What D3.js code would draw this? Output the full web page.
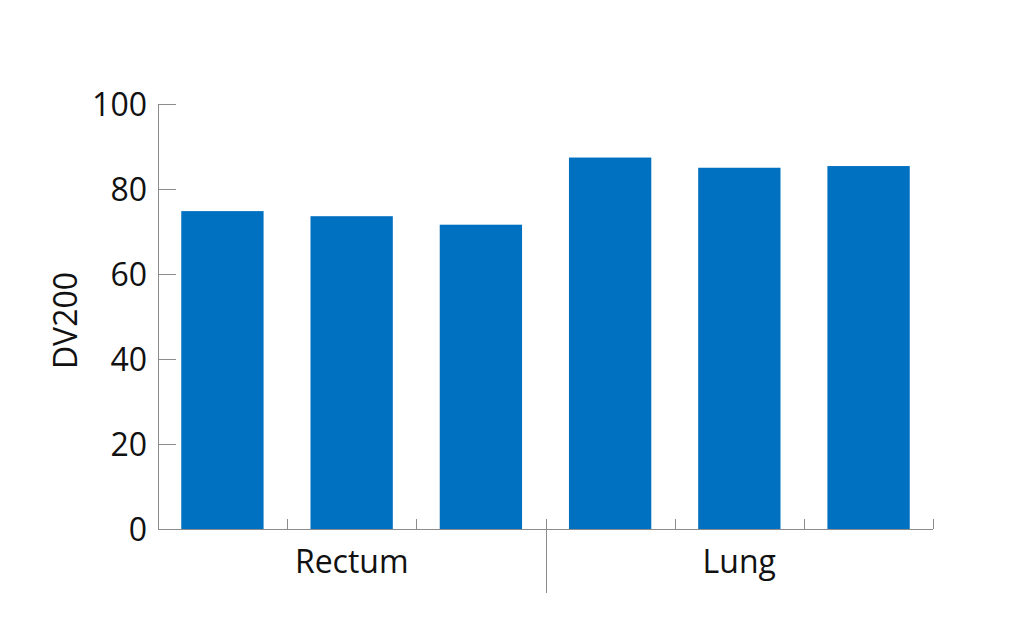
<!DOCTYPE html>
<html><head><meta charset="utf-8">
<script src="https://cdn.jsdelivr.net/npm/d3@7"></script>
<style>html,body{margin:0;padding:0;background:#fff;}svg{display:block;}</style>
</head><body><svg id="c" width="1024" height="640"></svg>
<script>
const samples = ["R1","R2","R3","L1","L2","L3"];
const values = [74.8, 73.6, 71.6, 87.4, 85.0, 85.4];
const groups = ["Rectum","Lung"];
const groupSizes = [3,3];
const yTicks = [0,20,40,60,80,100];
const yLabel = "DV200";

const svg = d3.select("#c");
const font = "'Open Sans', sans-serif";
const fs = 32;
const axisColor = "#8c8c8c";
const x = d3.scaleBand().domain(samples).range([158, 933]).paddingInner(0.363).paddingOuter(0.18);
const y = d3.scaleLinear().domain([0,100]).range([529, 104]);

// bars
svg.append("g").selectAll("rect").data(values).join("rect")
  .attr("x",(d,i)=>x(samples[i])).attr("width",x.bandwidth())
  .attr("y",d=>y(d)).attr("height",d=>y(0)-y(d))
  .attr("fill","#0070c0");

// y axis
const ya = svg.append("g").attr("transform",`translate(${x.range()[0]},0)`)
  .call(d3.axisRight(y).tickValues(yTicks).tickSize(18).tickPadding(0));
ya.select(".domain").attr("stroke",axisColor).attr("d",`M0.5,${y(0)}V${y(100)}`);
ya.selectAll(".tick line").attr("stroke",axisColor);
ya.selectAll(".tick text").attr("x",-11).attr("text-anchor","end")
  .attr("font-family",font).attr("font-size",fs).attr("fill","#111").attr("dy","0.35em");

// x axis baseline and ticks
const boundaries = d3.range(samples.length+1).map(i=>x.range()[0] + i*(x.range()[1]-x.range()[0])/samples.length);
svg.append("line").attr("x1",x.range()[0]).attr("x2",x.range()[1]).attr("y1",y(0)+0.5).attr("y2",y(0)+0.5).attr("stroke",axisColor);
const sepIdx = groupSizes[0];
svg.append("g").selectAll("line").data(boundaries.slice(1)).join("line")
  .attr("x1",d=>Math.round(d)+0.5).attr("x2",d=>Math.round(d)+0.5)
  .attr("y1",y(0)-10).attr("y2",(d,i)=> (i+1)===sepIdx ? 593 : y(0))
  .attr("stroke",axisColor);

// group labels
let start = 0;
groups.forEach((g,gi)=>{
  const x0 = boundaries[start], x1 = boundaries[start+groupSizes[gi]];
  svg.append("text").attr("x",(x0+x1)/2).attr("y",573).attr("text-anchor","middle")
    .attr("font-family",font).attr("font-size",fs).attr("fill","#111").text(g);
  start += groupSizes[gi];
});

// y label
svg.append("text").attr("transform",`translate(77,${(y(0)+y(100))/2+4}) rotate(-90)`)
  .attr("text-anchor","middle").attr("font-family",font).attr("font-size",fs).attr("fill","#111").text(yLabel);
</script></body></html>
